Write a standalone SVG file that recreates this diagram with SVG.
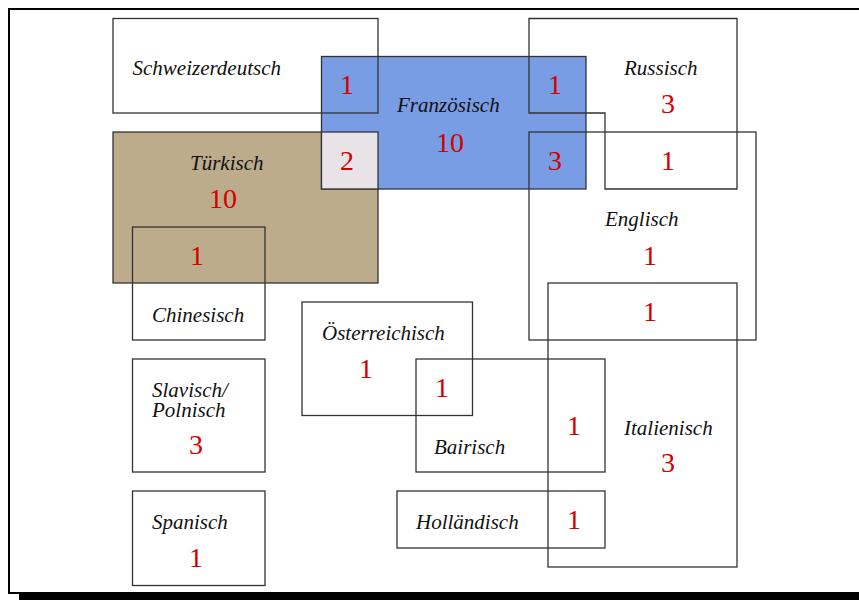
<svg xmlns="http://www.w3.org/2000/svg" width="859" height="600" viewBox="0 0 859 600">
<style>
.box{fill:none;stroke:#333;stroke-width:1.3}
.lbl{font-family:"Liberation Serif","Times New Roman",serif;font-style:italic;font-size:21px;fill:#111}
.num{font-family:"Liberation Serif","Times New Roman",serif;font-size:28px;fill:#d40000;text-anchor:middle}
</style>
<rect x="0" y="0" width="859" height="600" fill="#fff"/>
<g id="frame">
<rect x="19" y="593" width="845" height="7" fill="#000"/>
<rect x="9" y="9" width="855" height="584" fill="none" stroke="#000" stroke-width="2"/>
</g>
<g id="tuerkisch">
<rect x="113" y="132" width="265" height="151" fill="#bcac8b" stroke="#333" stroke-width="1.3"/>
<text class="lbl" x="190" y="170">Türkisch</text>
<text class="num" x="223" y="208">10</text>
</g>
<g id="franzoesisch">
<rect x="321.5" y="56.5" width="264.5" height="132.5" fill="#789de4" stroke="#333" stroke-width="1.3"/>
<text class="lbl" x="397" y="112">Französisch</text>
<text class="num" x="450" y="152">10</text>
</g>
<g id="tuerkisch-franzoesisch">
<rect x="321.5" y="132" width="56.5" height="57" fill="#e7e3e7" stroke="#333" stroke-width="1.3"/>
<text class="num" x="347" y="170">2</text>
</g>
<g id="schweizerdeutsch">
<rect class="box" x="113" y="18.5" width="265" height="94.5"/>
<text class="lbl" x="132.5" y="75">Schweizerdeutsch</text>
<text class="num" x="347" y="94">1</text>
</g>
<g id="russisch">
<polygon class="box" points="529,18.5 737,18.5 737,189 605,189 605,113 529,113"/>
<text class="lbl" x="624" y="75">Russisch</text>
<text class="num" x="668" y="113">3</text>
<text class="num" x="555" y="94">1</text>
<text class="num" x="668" y="170">1</text>
</g>
<g id="englisch">
<rect class="box" x="529" y="132" width="227" height="208"/>
<text class="lbl" x="605" y="226">Englisch</text>
<text class="num" x="650" y="265">1</text>
<text class="num" x="555" y="170">3</text>
</g>
<g id="chinesisch">
<rect class="box" x="132.5" y="227" width="132.5" height="113"/>
<text class="lbl" x="152" y="322">Chinesisch</text>
<text class="num" x="197" y="265">1</text>
</g>
<g id="italienisch">
<rect class="box" x="548" y="283" width="189" height="284"/>
<text class="lbl" x="624" y="435">Italienisch</text>
<text class="num" x="668" y="472">3</text>
<text class="num" x="650" y="321">1</text>
</g>
<g id="oesterreichisch">
<rect class="box" x="302" y="302" width="170.5" height="113.5"/>
<text class="lbl" x="322" y="340">Österreichisch</text>
<text class="num" x="366" y="378">1</text>
</g>
<g id="bairisch">
<rect class="box" x="416" y="359" width="189" height="113"/>
<text class="lbl" x="434" y="454">Bairisch</text>
<text class="num" x="442" y="397">1</text>
<text class="num" x="574" y="435">1</text>
</g>
<g id="slavisch-polnisch">
<rect class="box" x="132.5" y="359" width="132.5" height="113"/>
<text class="lbl" x="152" y="396.5">Slavisch/</text>
<text class="lbl" x="152" y="416.5">Polnisch</text>
<text class="num" x="196" y="454">3</text>
</g>
<g id="hollaendisch">
<rect class="box" x="397" y="491" width="208" height="57"/>
<text class="lbl" x="416" y="529">Holländisch</text>
<text class="num" x="574" y="529">1</text>
</g>
<g id="spanisch">
<rect class="box" x="132.5" y="491" width="132.5" height="94.5"/>
<text class="lbl" x="152" y="529">Spanisch</text>
<text class="num" x="196" y="567">1</text>
</g>
<g id="connectors"/>
</svg>
